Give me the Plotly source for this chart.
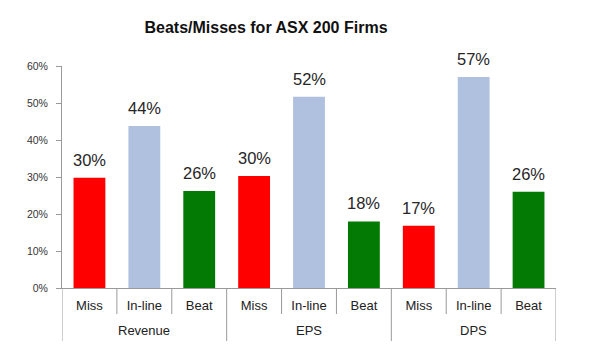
import plotly.graph_objects as go

groups = ["Revenue", "EPS", "DPS"]
outcomes = ["Miss", "In-line", "Beat", "Miss", "In-line", "Beat", "Miss", "In-line", "Beat"]
values = [29.8, 43.8, 26.2, 30.3, 51.7, 18.0, 16.8, 57.0, 26.0]
labels = ["30%", "44%", "26%", "30%", "52%", "18%", "17%", "57%", "26%"]
color_map = {"Miss": "#FF0000", "In-line": "#B0C1DF", "Beat": "#037A03"}
tick_vals = [0, 10, 20, 30, 40, 50, 60]
tick_text = ["0%", "10%", "20%", "30%", "40%", "50%", "60%"]

FONT = "Liberation Sans, Arial, sans-serif"
n = len(outcomes)
per_group = n // len(groups)
xs = list(range(n))

# page has an 8px body margin, so the figure is offset by 8px
W, H = 588, 350
ML, MR, MT, MB = 54, 40, 58, 70
plot_h = H - MT - MB

def py(px_below):
    return -px_below / plot_h

fig = go.Figure(
    go.Bar(
        x=xs,
        y=values,
        marker=dict(color=[color_map[o] for o in outcomes], line=dict(width=0)),
        hoverinfo="skip",
    )
)

annotations = []
for x, v, t in zip(xs, values, labels):
    annotations.append(dict(
        x=x, y=v, xref="x", yref="y", text=t, showarrow=False,
        yanchor="bottom", yshift=7,
        font=dict(family=FONT, size=16.5, color="#262626"),
    ))
for gi, g in enumerate(groups):
    annotations.append(dict(
        x=gi * per_group + (per_group - 1) / 2, y=py(42), xref="x", yref="paper",
        text=g, showarrow=False, yanchor="middle",
        font=dict(family=FONT, size=13, color="#222222"),
    ))

shapes = []
for b in range(n + 1):
    bx = b - 0.5
    is_group = (b % per_group == 0)
    shapes.append(dict(
        type="line", xref="x", yref="paper",
        x0=bx, x1=bx, y0=0, y1=py(53 if is_group else 26),
        line=dict(color="#9a9a9a", width=1),
    ))

fig.update_layout(
    width=W,
    height=H,
    margin=dict(l=ML, r=MR, t=MT, b=MB, autoexpand=False),
    paper_bgcolor="white",
    plot_bgcolor="white",
    showlegend=False,
    bargap=0.42,
    title=dict(
        text="<b>Beats/Misses for ASX 200 Firms</b>",
        x=258 / W,
        xanchor="center",
        y=1 - 19 / H,
        yanchor="middle",
        font=dict(family=FONT, size=16, color="#111111"),
    ),
    font=dict(family=FONT, color="#222222"),
    annotations=annotations,
    shapes=shapes,
)

fig.update_yaxes(
    range=[0, 60],
    tickvals=tick_vals,
    ticktext=tick_text,
    showgrid=False,
    zeroline=False,
    showline=True,
    linecolor="#9a9a9a",
    linewidth=1,
    ticks="outside",
    ticklen=5,
    tickcolor="#9a9a9a",
    tickfont=dict(family=FONT, size=10.5, color="#333333"),
    ticklabelstandoff=6,
    automargin=False,
)

fig.update_xaxes(
    range=[-0.5, n - 0.5],
    tickvals=xs,
    ticktext=outcomes,
    showgrid=False,
    zeroline=False,
    showline=True,
    linecolor="#9a9a9a",
    linewidth=1,
    ticks="",
    tickfont=dict(family=FONT, size=13, color="#222222"),
    ticklabelstandoff=5,
    automargin=False,
)

fig.write_html("out.html")
